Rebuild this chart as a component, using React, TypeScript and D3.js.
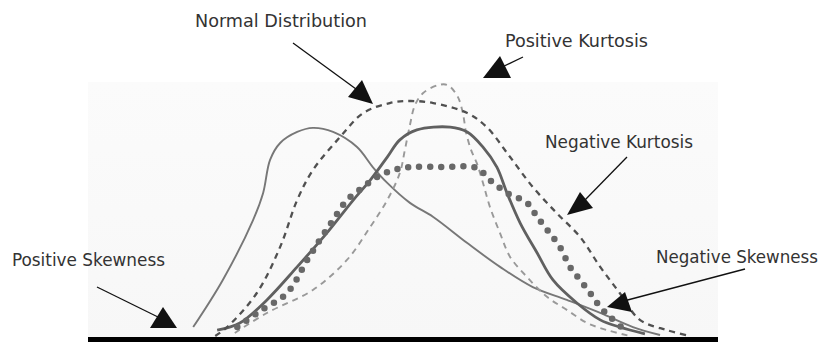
import React from 'react'
import * as d3 from 'd3'

const width = 822
const height = 342
const plot = { left: 88, right: 718, top: 80, bottom: 336 }

// curves: x in 0..100 across the base, y in 0..100 up
const positiveSkewX = [16.7, 21.4, 26.2, 27.8, 28.9, 30.5, 33.2, 35.7, 38.9, 42.7, 45.2, 47.5, 51.1, 54.8, 60.2, 65.4, 70.6, 76.0, 81.3, 86.5, 90.8]
const positiveSkewY = [3.5, 21.9, 45.3, 55.9, 68.8, 75.4, 79.7, 81.3, 79.7, 73.8, 66.0, 59.8, 52.0, 46.5, 36.3, 27.0, 19.1, 14.1, 9.0, 3.5, 0.4]

const wideDashX = [20.2, 22.1, 26.8, 30.5, 33.2, 35.7, 40.0, 43.7, 47.9, 51.1, 54.8, 60.2, 63.3, 67.0, 70.6, 74.4, 78.1, 81.3, 84.4, 87.6, 91.9, 95.6]
const wideDashY = [0, 3.5, 16.8, 34.8, 53.1, 64.8, 77.7, 87.1, 91.0, 91.8, 91.0, 87.1, 81.6, 69.9, 58.2, 48.0, 38.7, 27.0, 16.8, 6.3, 2.3, 0]

const normalX = [20.5, 24.1, 28.4, 33.2, 37.9, 42.1, 44.8, 47.5, 49.5, 52.2, 57.5, 60.2, 62.7, 64.9, 66.5, 68.6, 71.3, 73.8, 77.6, 81.3, 84.4, 88.4]
const normalY = [2.3, 5.1, 14.1, 27.0, 40.2, 53.1, 60.9, 69.9, 76.6, 80.5, 81.6, 79.7, 73.8, 66.0, 55.9, 44.1, 32.4, 21.9, 12.9, 6.3, 3.5, 0.8]

const flatX = [23.7, 27.6, 31.6, 34.8, 36.8, 38.9, 41.1, 43.7, 45.9, 48.4, 51.1, 55.9, 61.7, 63.8, 66.5, 69.7, 71.3, 72.9, 74.9, 76.5, 78.1, 79.7, 81.3, 82.9, 85.2]
const flatY = [3.5, 10.2, 16.8, 29.7, 37.5, 45.3, 53.1, 58.2, 62.1, 64.8, 66.0, 66.0, 65.6, 60.9, 55.9, 52.0, 46.5, 41.4, 34.8, 27.0, 21.9, 16.8, 11.3, 7.4, 2.3]

const peakedX = [23.3, 28.4, 35.7, 41.1, 44.8, 47.5, 49.5, 50.3, 51.1, 51.9, 53.2, 55.6, 57.1, 58.7, 59.5, 60.0, 60.8, 61.7, 62.7, 63.8, 65.4, 67.0, 69.7, 72.9, 76.0, 79.2, 82.4, 86.0]
const peakedY = [1.2, 9.0, 18.0, 29.7, 42.6, 53.1, 63.7, 72.7, 82.4, 90.2, 94.9, 98.0, 98.0, 93.4, 87.1, 79.7, 72.7, 67.6, 59.8, 50.4, 40.2, 30.9, 23.0, 15.2, 10.2, 5.1, 2.3, 0]

const labels = ['Normal Distribution', 'Positive Kurtosis', 'Negative Kurtosis', 'Negative Skewness', 'Positive Skewness']

// where each label and its arrow sit on the page
const labelLayout = [
  { x: 195, y: 27, w: 172, line: [293, 43, 356, 89], head: [[362, 80], [348, 97], [373, 104]] },
  { x: 505, y: 47, w: 143, line: [523, 57, 500, 68], head: [[500, 56], [483, 78], [511, 78]] },
  { x: 545, y: 148, w: 148, line: [627, 157, 584, 201], head: [[580, 192], [593, 208], [567, 215]] },
  { x: 656, y: 263, w: 162, line: [745, 269, 620, 302], head: [[625, 292], [632, 312], [607, 307]] },
  { x: 12, y: 266, w: 153, line: [97, 287, 160, 318], head: [[163, 307], [150, 328], [177, 328]] },
]

const xScale = d3.scaleLinear().domain([0, 100]).range([plot.left, plot.right])
const yScale = d3.scaleLinear().domain([0, 100]).range([plot.bottom, plot.top])

const line = d3
  .line<[number, number]>()
  .x((d) => xScale(d[0]))
  .y((d) => yScale(d[1]))
  .curve(d3.curveCatmullRom.alpha(0.5))

const zip = (xs: number[], ys: number[]) => xs.map((x, i) => [x, ys[i]] as [number, number])

const curves = [
  { pts: zip(positiveSkewX, positiveSkewY), stroke: '#777', w: 1.9, dash: undefined, cap: 'butt' },
  { pts: zip(peakedX, peakedY), stroke: '#999', w: 1.9, dash: '6 5', cap: 'butt' },
  { pts: zip(normalX, normalY), stroke: '#606060', w: 2.8, dash: undefined, cap: 'butt' },
  { pts: zip(flatX, flatY), stroke: '#686868', w: 6.5, dash: '0 11', cap: 'round' },
  { pts: zip(wideDashX, wideDashY), stroke: '#505050', w: 2.3, dash: '6 5', cap: 'butt' },
]

export default function App() {
  return (
    <svg
      width={width}
      height={height}
      style={{ position: 'absolute', left: 0, top: 0, background: '#fff' }}
    >
      <defs>
        <linearGradient id="bg" x1="0" y1="0" x2="0" y2="1">
          <stop offset="0" stopColor="#fbfbfb" />
          <stop offset="1" stopColor="#f7f7f7" />
        </linearGradient>
      </defs>
      <rect
        x={plot.left}
        y={plot.top + 2}
        width={plot.right - plot.left}
        height={height - plot.top - 2}
        fill="url(#bg)"
      />
      {curves.map((c, i) => (
        <path
          key={i}
          d={line(c.pts) || ''}
          fill="none"
          stroke={c.stroke}
          strokeWidth={c.w}
          strokeDasharray={c.dash}
          strokeLinecap={c.cap as 'butt' | 'round'}
        />
      ))}
      <rect x={plot.left} y={337} width={plot.right - plot.left} height={5} fill="#000" />
      {labels.map((t, i) => {
        const l = labelLayout[i]
        return (
          <g key={t}>
            <text
              x={l.x}
              y={l.y}
              textLength={l.w}
              lengthAdjust="spacingAndGlyphs"
              fontFamily="'DejaVu Sans Condensed', 'DejaVu Sans', sans-serif"
              fontSize={17}
              fill="#333"
            >
              {t}
            </text>
            <line x1={l.line[0]} y1={l.line[1]} x2={l.line[2]} y2={l.line[3]} stroke="#111" strokeWidth={1.3} />
            <polygon points={l.head.map((p) => p.join(',')).join(' ')} fill="#111" />
          </g>
        )
      })}
    </svg>
  )
}
